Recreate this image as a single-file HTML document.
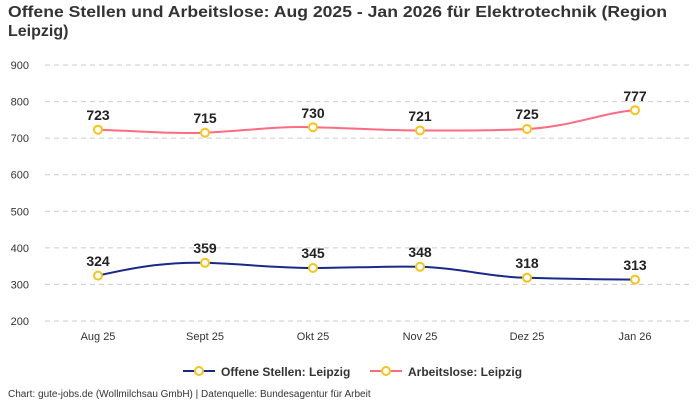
<!DOCTYPE html>
<html><head><meta charset="utf-8"><style>
body{margin:0;background:#fff;font-family:"Liberation Sans",sans-serif}
</style></head><body>
<svg width="700" height="400" xmlns="http://www.w3.org/2000/svg" font-family="Liberation Sans, sans-serif">
<rect width="700" height="400" fill="#fff"/>
<text x="8" y="17" font-size="16" font-weight="bold" fill="#333" textLength="659" lengthAdjust="spacingAndGlyphs">Offene Stellen und Arbeitslose: Aug 2025 - Jan 2026 für Elektrotechnik (Region</text>
<text x="8" y="36" font-size="16" font-weight="bold" fill="#333">Leipzig)</text>
<g stroke="#ccc" stroke-dasharray="5,4" stroke-width="1">
<line x1="45" x2="690" y1="65" y2="65"/><line x1="45" x2="690" y1="101.6" y2="101.6"/>
<line x1="45" x2="690" y1="138.1" y2="138.1"/><line x1="45" x2="690" y1="174.7" y2="174.7"/>
<line x1="45" x2="690" y1="211.3" y2="211.3"/><line x1="45" x2="690" y1="247.9" y2="247.9"/>
<line x1="45" x2="690" y1="284.4" y2="284.4"/><line x1="45" x2="690" y1="321" y2="321"/>
</g>
<g font-size="11" fill="#333" text-anchor="end">
<text x="29" y="69">900</text><text x="29" y="105.6">800</text><text x="29" y="142.1">700</text>
<text x="29" y="178.7">600</text><text x="29" y="215.3">500</text><text x="29" y="251.9">400</text>
<text x="29" y="288.4">300</text><text x="29" y="325">200</text>
</g>
<g font-size="11" fill="#333" text-anchor="middle">
<text x="98" y="340">Aug 25</text><text x="205" y="340">Sept 25</text><text x="313" y="340">Okt 25</text>
<text x="420" y="340">Nov 25</text><text x="527" y="340">Dez 25</text><text x="635" y="340">Jan 26</text>
</g>
<path d="M98,129.7 C140,131 170,134 205,132.7 C245,131 275,126 313,127.2 C350,128 385,130.5 420,130.5 C460,130.5 490,131 527,129 C570,127 605,112 635,110.2" fill="none" stroke="#ff6b81" stroke-width="2"/>
<path d="M98,275.6 C140,266 170,262 205,262.8 C245,264 275,268 313,268 C350,268 385,266 420,266.8 C460,268 490,277 527,277.8 C570,279 605,279.5 635,279.6" fill="none" stroke="#1a2a8a" stroke-width="2"/>
<g fill="#fff" stroke="#f5c518" stroke-width="2">
<circle cx="98" cy="129.7" r="4"/><circle cx="205" cy="132.7" r="4"/><circle cx="313" cy="127.2" r="4"/>
<circle cx="420" cy="130.5" r="4"/><circle cx="527" cy="129" r="4"/><circle cx="635" cy="110.2" r="4"/>
<circle cx="98" cy="275.6" r="4"/><circle cx="205" cy="262.8" r="4"/><circle cx="313" cy="268" r="4"/>
<circle cx="420" cy="266.8" r="4"/><circle cx="527" cy="277.8" r="4"/><circle cx="635" cy="279.6" r="4"/>
</g>
<g font-size="14" font-weight="bold" fill="#222" text-anchor="middle">
<text x="98" y="120">723</text><text x="205" y="123">715</text><text x="313" y="118">730</text>
<text x="420" y="121">721</text><text x="527" y="119">725</text><text x="635" y="101">777</text>
<text x="98" y="266">324</text><text x="205" y="253">359</text><text x="313" y="258">345</text>
<text x="420" y="257">348</text><text x="527" y="268">318</text><text x="635" y="270">313</text>
</g>
<line x1="183" x2="215" y1="371" y2="371" stroke="#1a2a8a" stroke-width="2"/>
<circle cx="199" cy="371" r="4" fill="#fff" stroke="#f5c518" stroke-width="2"/>
<text x="221" y="376" font-size="12" font-weight="bold" fill="#333">Offene Stellen: Leipzig</text>
<line x1="370" x2="402" y1="371" y2="371" stroke="#ff6b81" stroke-width="2"/>
<circle cx="386" cy="371" r="4" fill="#fff" stroke="#f5c518" stroke-width="2"/>
<text x="408" y="376" font-size="12" font-weight="bold" fill="#333">Arbeitslose: Leipzig</text>
<text x="8" y="397" font-size="10" fill="#333">Chart: gute-jobs.de (Wollmilchsau GmbH) | Datenquelle: Bundesagentur für Arbeit</text>
</svg>
</body></html>
